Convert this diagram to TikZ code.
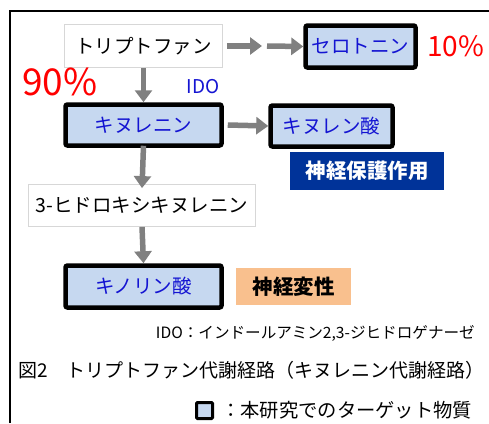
\documentclass[tikz,border=0pt]{standalone}
\usepackage{fontspec}
\setmainfont{Noto Sans CJK JP}
\usetikzlibrary{arrows.meta}
\definecolor{boxfill}{RGB}{198,216,240}
\definecolor{boxtext}{RGB}{20,20,210}
\definecolor{protblue}{RGB}{0,51,153}
\definecolor{degorange}{RGB}{249,192,142}
\definecolor{pctred}{RGB}{255,0,0}
\definecolor{arrowgray}{RGB}{128,128,128}
\definecolor{lightborder}{RGB}{215,215,215}
\tikzset{
  mainfont/.style={font=\fontsize{19.5}{21}\selectfont},
  target/.style={mainfont, draw=black, line width=4.5pt, rounded corners=2pt, fill=boxfill, text=boxtext, inner sep=0pt},
  plainbox/.style={mainfont, draw=lightborder, line width=0.8pt, fill=white, text=black, inner sep=0pt},
  effect/.style={font=\fontsize{20.5}{22}\selectfont\bfseries, inner sep=0pt},
  garrow/.style={draw=arrowgray, line width=5.5pt, -{Triangle[width=17pt,length=12pt]}},
}
\begin{document}
\begin{tikzpicture}[x=1pt,y=-1pt]
\useasboundingbox (0,0) rectangle (489,423);
% frame
\draw[line width=1.8pt] (10,423) -- (10,11) -- (489,11);
% nodes
\node[plainbox, minimum width=158pt, minimum height=43pt] (tryp) at (143.5,46) {トリプトファン};
\node[target, minimum width=110pt, minimum height=42pt] (sero) at (360.5,46.5) {セロトニン};
\node[target, minimum width=156pt, minimum height=41pt] (kyn) at (143.5,125) {キヌレニン};
\node[target, minimum width=122pt, minimum height=41pt] (kyna) at (331.5,126) {キヌレン酸};
\node[effect, fill=protblue, text=white, minimum width=154pt, minimum height=38pt] (prot) at (367,171) {神経保護作用};
\node[plainbox, minimum width=227pt, minimum height=42pt] (hk) at (142,205.5) {3-ヒドロキシキヌレニン};
\node[target, minimum width=156pt, minimum height=42pt] (quin) at (143.5,286.5) {キノリン酸};
\node[effect, fill=degorange, text=black, minimum width=115pt, minimum height=37pt] (deg) at (293.5,286.5) {神経変性};
% labels
\node[text=pctred, font=\fontsize{28}{30}\selectfont, anchor=west, inner sep=0pt] (p10) at (427,46) {10\%};
\node[text=pctred, font=\fontsize{37}{39}\selectfont, inner sep=0pt] (p90) at (60,82) {90\%};
\node[text=boxtext, font=\fontsize{19}{21}\selectfont, inner sep=0pt] (ido) at (203,87) {IDO};
\node[font=\fontsize{15.6}{17}\selectfont, anchor=east, inner sep=0pt] (idonote) at (475,333) {IDO：インドールアミン2,3-ジヒドロゲナーゼ};
\node[font=\fontsize{19}{21}\selectfont, anchor=west, inner sep=0pt] (cap) at (18,370) {図2　トリプトファン代謝経路（キヌレニン代謝経路）};
\node[draw=black, line width=3pt, fill=boxfill, minimum width=16pt, minimum height=16pt, inner sep=0pt, rounded corners=1pt] (legbox) at (204.5,410.5) {};
\node[font=\fontsize{19.3}{21}\selectfont, anchor=west, inner sep=0pt] (legtext) at (221,410) {：本研究でのターゲット物質};
% arrows
\coordinate (m1) at (262,46);
\coordinate (m2) at (267,46);
\draw[garrow] ([xshift=4pt]tryp.east) -- (m1);
\draw[garrow] (m2) -- (sero.west);
\draw[garrow] (tryp.south) -- (kyn.north);
\draw[garrow] ([xshift=4pt]kyn.east) -- (kyna.west);
\draw[garrow] ([yshift=2pt]kyn.south) -- ([yshift=-4pt]hk.north);
\draw[garrow] (hk.south) -- (quin.north);
\end{tikzpicture}
\end{document}
